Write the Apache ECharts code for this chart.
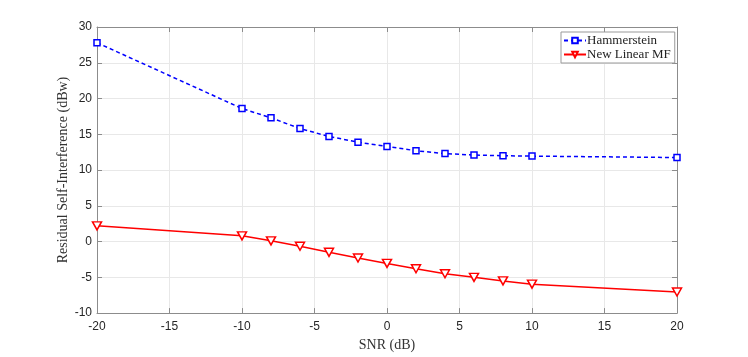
<!DOCTYPE html>
<html>
<head>
<meta charset="utf-8">
<script src="https://cdn.jsdelivr.net/npm/echarts@6/dist/echarts.min.js"></script>
<style>
  html, body { margin: 0; padding: 0; background: #fff; }
  #chartMain { width: 748px; height: 357px; }
</style>
</head>
<body>
<div id="chartMain"></div>
<script>
// SNR points (dB)
var snr = [-20, -10, -8, -6, -4, -2, 0, 2, 4, 6, 8, 10, 20];
// residual self-interference (dBw)
var hammerstein = [27.8, 18.6, 17.3, 15.8, 14.7, 13.9, 13.3, 12.7, 12.3, 12.1, 12.0, 11.95, 11.75];
var linearMF = [2.2, 0.8, 0.1, -0.65, -1.5, -2.3, -3.05, -3.8, -4.5, -5.0, -5.5, -5.95, -7.05];
var seriesNames = ['Hammerstein', 'New Linear MF'];

function pairs(xs, ys) {
    var out = [];
    for (var i = 0; i < xs.length; i++) out.push([xs[i], ys[i]]);
    return out;
}

var axisGrey = '#8c8c8c';
var labelColor = '#262626';
var serif = 'Liberation Serif';

var myChart = echarts.init(document.getElementById('chartMain'));
var option = {
    animation: false,
    backgroundColor: '#ffffff',
    grid: { left: 97, right: 71, top: 27, bottom: 40 },
    legend: {
        data: seriesNames,
        orient: 'vertical',
        left: 561,
        top: 32,
        padding: [2, 4, 2, 2],
        itemGap: 1,
        itemWidth: 22,
        itemHeight: 7,
        backgroundColor: '#fff',
        borderColor: '#999',
        borderWidth: 1,
        borderRadius: 0,
        textStyle: { fontFamily: serif, fontSize: 13, color: '#222', padding: [0, 0, 0, -4] }
    },
    xAxis: [{
        type: 'value', min: -20, max: 20, interval: 5,
        name: 'SNR (dB)', nameLocation: 'middle', nameGap: 21,
        nameTextStyle: { fontFamily: serif, fontSize: 14, color: '#333' },
        axisLine: { onZero: false, lineStyle: { color: axisGrey } },
        axisTick: { inside: true, length: 5, lineStyle: { color: axisGrey } },
        axisLabel: { color: labelColor, fontFamily: 'Liberation Sans', fontSize: 12, margin: 8 },
        splitLine: { show: true, lineStyle: { color: '#e8e8e8' } }
    }, {
        type: 'value', min: -20, max: 20, interval: 5, position: 'top',
        axisLine: { show: true, onZero: false, lineStyle: { color: axisGrey } },
        axisTick: { show: true, inside: true, length: 5, lineStyle: { color: axisGrey } },
        axisLabel: { show: false },
        splitLine: { show: false }
    }],
    yAxis: [{
        type: 'value', min: -10, max: 30, interval: 5,
        name: 'Residual Self-Interference (dBw)', nameLocation: 'middle', nameGap: 27,
        nameMoveOverlap: false,
        nameTextStyle: { fontFamily: serif, fontSize: 14, color: '#333' },
        axisLine: { show: true, onZero: false, lineStyle: { color: axisGrey } },
        axisTick: { show: true, inside: true, length: 5, lineStyle: { color: axisGrey } },
        axisLabel: { color: labelColor, fontFamily: 'Liberation Sans', fontSize: 12, margin: 5 },
        splitLine: { show: true, lineStyle: { color: '#e8e8e8' } }
    }, {
        type: 'value', min: -10, max: 30, interval: 5, position: 'right',
        axisLine: { show: true, onZero: false, lineStyle: { color: axisGrey } },
        axisTick: { show: true, inside: true, length: 5, lineStyle: { color: axisGrey } },
        axisLabel: { show: false },
        splitLine: { show: false }
    }],
    series: [{
        name: seriesNames[0],
        type: 'line',
        data: pairs(snr, hammerstein),
        symbol: 'rect',
        symbolSize: 6,
        itemStyle: { color: '#ffffff', borderColor: '#0000ff', borderWidth: 1.5 },
        lineStyle: { color: '#0000ff', width: 1.5, type: [4, 3] },
        z: 3
    }, {
        name: seriesNames[1],
        type: 'line',
        data: pairs(snr, linearMF),
        symbol: 'path://M0,0 L10,0 L5,9 Z',
        symbolSize: [9, 8],
        itemStyle: { color: '#ffffff', borderColor: '#ff0000', borderWidth: 1.5 },
        lineStyle: { color: '#ff0000', width: 1.5 },
        z: 3
    }]
};
myChart.setOption(option);
</script>
</body>
</html>
